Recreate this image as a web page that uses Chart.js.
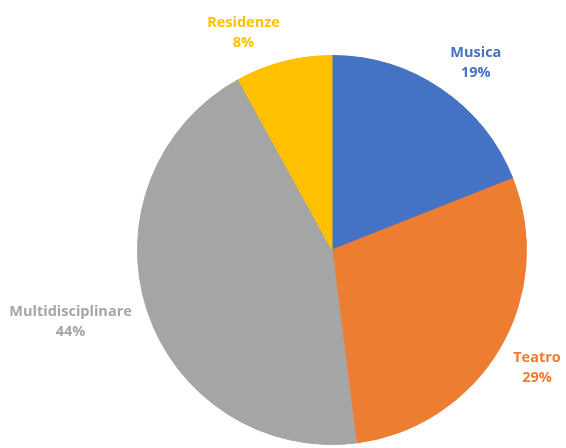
<!DOCTYPE html>
<html>
<head>
<meta charset="utf-8">
<script src="https://cdn.jsdelivr.net/npm/chart.js@4"></script>
<style>
  html, body { margin: 0; padding: 0; background: #fff; }
  #wrap { width: 566px; height: 448px; }
</style>
</head>
<body>
<div id="wrap"><canvas id="myChart" width="566" height="448"></canvas></div>
<script>
var categories = ['Musica', 'Teatro', 'Multidisciplinare', 'Residenze'];
var shares = [19, 29, 44, 8];
var colors = ['#4472C4', '#ED7D31', '#A5A5A5', '#FFC000'];

// labels outside the slices, like Excel's "best fit"
const outsideLabels = {
    id: 'outsideLabels',
    afterDatasetsDraw(chart) {
        const ctx = chart.ctx;
        const arcs = chart.getDatasetMeta(0).data;
        ctx.save();
        ctx.font = 'bold 14.5px "Open Sans"';
        ctx.textAlign = 'center';
        ctx.textBaseline = 'middle';
        const clamp = (v) => Math.max(-1, Math.min(1, v));
        arcs.forEach((arc, i) => {
            const mid = (arc.startAngle + arc.endAngle) / 2;
            const r = arc.outerRadius + 16;
            const ax = arc.x + Math.cos(mid) * r;
            const ay = arc.y + Math.sin(mid) * r;
            const lines = [categories[i], shares[i] + '%'];
            const w = Math.max(...lines.map(t => ctx.measureText(t).width));
            const h = 40;
            const cx = ax + w / 2 * clamp(Math.cos(mid) * 4);
            const cy = ay + h / 2 * 0.6 * clamp(Math.sin(mid) * 2) - 1;
            ctx.fillStyle = colors[i];
            ctx.fillText(lines[0], cx, cy - 10);
            ctx.fillText(lines[1], cx, cy + 10);
        });
        ctx.restore();
    }
};

const data = {
    labels: categories,
    datasets: [
        {
            data: shares,
            backgroundColor: colors,
            borderColor: colors,
            borderWidth: 1,
        },
    ],
};

const config = {
    type: 'pie',
    data: data,
    options: {
        responsive: false,
        animation: false,
        layout: {
            padding: { top: 55, bottom: 3, left: 137, right: 39 }
        },
        plugins: {
            legend: { display: false },
            tooltip: { enabled: false }
        }
    },
    plugins: [outsideLabels],
};

const myChart = new Chart(document.getElementById('myChart'), config);
</script>
</body>
</html>
